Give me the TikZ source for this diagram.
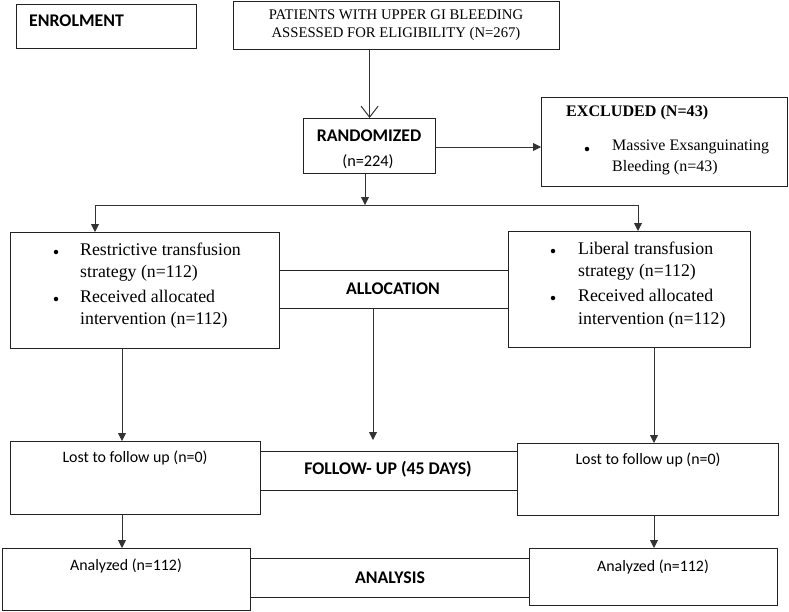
\documentclass[tikz,border=0pt]{standalone}
\usepackage{fontspec}
\setmainfont{Liberation Serif}
\newfontfamily\calfont{Carlito}
\usetikzlibrary{arrows.meta}
\definecolor{ln}{HTML}{222222}
\definecolor{ar}{HTML}{333333}
\tikzset{
  box/.style={draw=ln, line width=1.2pt, rectangle, inner sep=0pt, anchor=north west},
  arr/.style={draw=ar, line width=0.9pt, -{Triangle[width=8pt,length=8pt]}},
  openarr/.style={draw=ar, line width=1pt, -{Straight Barb[width=17pt,length=11pt]}},
  sertxt/.style={font=\fontsize{17.8}{22.5}\selectfont, align=left, inner sep=0pt, anchor=west},
  sercap/.style={font=\fontsize{14.7}{18}\selectfont, align=center, inner sep=0pt},
  caltxt/.style={font=\calfont\fontsize{15.9}{18}\selectfont, inner sep=0pt},
  calbold/.style={font=\calfont\bfseries\fontsize{17.8}{20}\selectfont, inner sep=0pt},
  bul/.style={circle, fill=black, inner sep=0pt, minimum size=4.5pt},
}
\begin{document}
\begin{tikzpicture}[x=1pt, y=-1pt]
\useasboundingbox (0,0) rectangle (789,611);
% Enrolment
\node[box, minimum width=180pt, minimum height=44pt] (enr) at (16,4) {};
\node[calbold, anchor=west] (enrt) at (29,21) {ENROLMENT};
% Patients
\node[box, minimum width=326pt, minimum height=48pt] (pat) at (233,1) {};
\node[sercap] (patt) at (396,25) {PATIENTS WITH UPPER GI BLEEDING\\ASSESSED FOR ELIGIBILITY (N=267)};
% Randomized
\node[box, minimum width=132pt, minimum height=55pt] (rand) at (303,118) {};
\node[calbold] (randt) at (369,136) {RANDOMIZED};
\node[caltxt, font=\calfont\fontsize{16.3}{18}\selectfont] (randn) at (368,162) {(n=224)};
% Excluded
\node[box, minimum width=246pt, minimum height=89pt] (excl) at (541,97) {};
\node[sercap, font=\bfseries\fontsize{16.1}{18}\selectfont, anchor=west] (exclt) at (566,113) {EXCLUDED (N=43)};
\node[bul] (exb) at (587,149) {};
\node[sertxt, font=\fontsize{16}{21.5}\selectfont] (ext) at (612,157.5) {Massive Exsanguinating\\Bleeding (n=43)};
% Restrictive
\node[box, minimum width=269pt, minimum height=116pt] (restr) at (10,232) {};
\node[bul] (rb1) at (56,252) {};
\node[sertxt] (rt1) at (80,262) {Restrictive transfusion\\strategy (n=112)};
\node[bul] (rb2) at (56,299) {};
\node[sertxt] (rt2) at (80,309) {Received allocated\\intervention (n=112)};
% Liberal
\node[box, minimum width=242pt, minimum height=116pt] (lib) at (508,231) {};
\node[bul] (lb1) at (553,251) {};
\node[sertxt] (lt1) at (578,261) {Liberal transfusion\\strategy (n=112)};
\node[bul] (lb2) at (553,298) {};
\node[sertxt] (lt2) at (578,308.5) {Received allocated\\intervention (n=112)};
% Allocation
\node[box, minimum width=229pt, minimum height=38pt] (alloc) at (279,270) {};
\node[calbold] (alloct) at (393,289) {ALLOCATION};
% Follow-up
\node[box, minimum width=250pt, minimum height=73pt] (lostL) at (10,441) {};
\node[caltxt] (lostLt) at (135,458) {Lost to follow up (n=0)};
\node[box, minimum width=257pt, minimum height=39pt] (fu) at (260,451) {};
\node[calbold] (fut) at (388,469) {FOLLOW- UP (45 DAYS)};
\node[box, minimum width=261pt, minimum height=72pt] (lostR) at (517,443) {};
\node[caltxt] (lostRt) at (648,460) {Lost to follow up (n=0)};
% Analysis
\node[box, minimum width=248pt, minimum height=62pt] (anaL) at (2,548) {};
\node[caltxt] (anaLt) at (126,566) {Analyzed (n=112)};
\node[box, minimum width=279pt, minimum height=39pt] (ana) at (250,558) {};
\node[calbold] (anat) at (390,578) {ANALYSIS};
\node[box, minimum width=248pt, minimum height=57pt] (anaR) at (529,548) {};
\node[caltxt] (anaRt) at (653,567) {Analyzed (n=112)};
% connectors
\coordinate (split) at (365,205);
\coordinate (jl) at (95,205);
\coordinate (jr) at (638,205);
\coordinate (colL) at (122,0);
\coordinate (colM) at (373,440);
\coordinate (colR) at (654,0);
\draw[openarr] (pat.south -| rand.north) -- (rand.north);
\draw[arr] (rand.east |- 0,147) -- (excl.west |- 0,147);
\draw[arr] (rand.south -| split) -- (split);
\draw[arr] (split) -- (jl) -- (jl |- restr.north);
\draw[arr] (split) -- (jr) -- (jr |- lib.north);
\draw[arr] (colL |- restr.south) -- (colL |- lostL.north);
\draw[arr] (alloc.south -| colM) -- (colM);
\draw[arr] (colR |- lib.south) -- (colR |- lostR.north);
\draw[arr] (colL |- lostL.south) -- (colL |- anaL.north);
\draw[arr] (colR |- lostR.south) -- (colR |- anaR.north);
\end{tikzpicture}
\end{document}
